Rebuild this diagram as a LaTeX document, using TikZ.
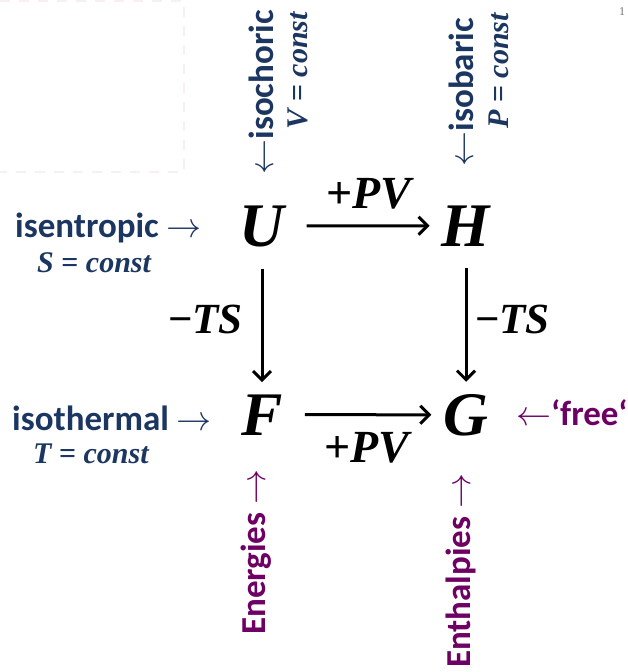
\RequirePackage{fix-cm}
\documentclass[tikz,border=0pt]{standalone}
\usepackage{fontspec}
\setmainfont{Carlito}
\newfontfamily\thermofont{Liberation Serif}
\definecolor{thnavy}{RGB}{28,54,98}
\definecolor{thpurple}{RGB}{110,0,100}
\definecolor{thghost}{RGB}{248,238,244}
\usetikzlibrary{arrows.meta,positioning}

\tikzset{
  potential/.style={inner sep=0pt, font=\thermofont\fontsize{62}{62}\selectfont\bfseries\itshape},
  change/.style={inner sep=0pt, font=\thermofont\fontsize{43}{43}\selectfont\bfseries\itshape},
  process/.style={inner sep=0pt, text=thnavy, font=\fontsize{35}{40}\selectfont\bfseries},
  constant/.style={inner sep=0pt, text=thnavy, font=\thermofont\fontsize{30}{32}\selectfont\bfseries\itshape},
  family/.style={inner sep=0pt, text=thpurple, font=\fontsize{35}{40}\selectfont\bfseries},
  flow/.style={-{Straight Barb[length=9pt,width=18pt]}, line width=3pt, black, shorten <=22pt, shorten >=12pt}
}

\begin{document}
\begin{tikzpicture}[x=1pt, y=-1pt]
  \useasboundingbox (0,0) rectangle (628,672);
  % faint frame top left
  \draw[thghost, line width=1.5pt, dash pattern=on 10pt off 9pt] (0,1) -- (184,1) -- (184,172) -- (0,172);
  \node[inner sep=0pt, text=black!55, font=\thermofont\fontsize{12}{12}\selectfont, anchor=base] (page) at (622,15) {1};
  % potentials
  \node[potential, anchor=base] (U) at (262,246) {U};
  \node[potential, anchor=base] (H) at (466,246) {H};
  \node[potential, anchor=base] (F) at (262,435) {F};
  \node[potential, anchor=base] (G) at (466,435) {G};
  % transforms
  \draw[flow] (U) -- (H);
  \draw[flow] (F) -- (G);
  \draw[flow] (U) -- (F);
  \draw[flow] (H) -- (G);
  \node[change, anchor=base, font=\thermofont\fontsize{46}{46}\selectfont\bfseries\itshape] (pvtop) at (369,208) {{\upshape+}PV};
  \node[change, anchor=base, font=\thermofont\fontsize{46}{46}\selectfont\bfseries\itshape] (pvbot) at (367,462) {{\upshape+}PV};
  \node[change, anchor=base east] (tsleft) at (243,333) {{\upshape\char"2212}TS};
  \node[change, anchor=base west] (tsright) at (475,333) {{\upshape\char"2212}TS};
  % processes
  \node[process, anchor=base west] (isen) at (15,237) {isentropic $\rightarrow$};
  \node[constant, anchor=base west] (Sc) at (37,272) {S {\upshape=} const};
  \node[process, anchor=base west] (isoth) at (12,430) {isothermal $\rightarrow$};
  \node[constant, anchor=base west] (Tc) at (33,463) {T {\upshape=} const};
  \node[process, rotate=90, anchor=base east] (isoch) at (273,10) {$\leftarrow$isochoric};
  \node[constant, rotate=90, anchor=base east] (Vc) at (307,12) {V {\upshape=} const};
  \node[process, rotate=90, anchor=base east] (isob) at (473,18) {$\leftarrow$isobaric};
  \node[constant, rotate=90, anchor=base east] (Pc) at (508,13) {P {\upshape=} const};
  % families
  \node[family, anchor=base west] (free) at (516,425) {$\leftarrow$‘free‘};
  \node[family, rotate=90, anchor=base west] (ener) at (265,635) {Energies $\rightarrow$};
  \node[family, rotate=90, anchor=base west] (enth) at (470,668) {Enthalpies $\rightarrow$};
\end{tikzpicture}
\end{document}
